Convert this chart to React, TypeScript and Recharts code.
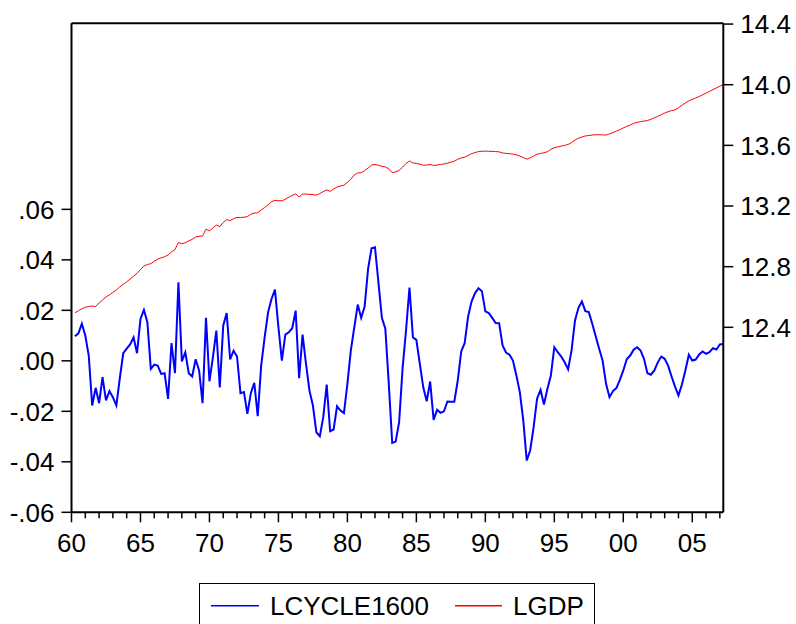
import React from 'react';
import { LineChart, Line, XAxis, YAxis, ReferenceLine } from 'recharts';

// quarterly, 1960Q2 .. 2007Q2
const START_YEAR = 1960;
const START_QUARTER = 2;

const lcycle1600 = [
  0.0097, 0.0109, 0.0147, 0.0100, 0.0021, -0.0177, -0.0107, -0.0168, -0.0065, -0.0157,
  -0.0120, -0.0144, -0.0177, -0.0070, 0.0030, 0.0048, 0.0065, 0.0093, 0.0030, 0.0166,
  0.0202, 0.0153, -0.0032, -0.0015, -0.0019, -0.0052, -0.0049, -0.0151, 0.0070, -0.0049,
  0.0311, -0.0002, 0.0034, -0.0049, -0.0062, 0.0006, -0.0038, -0.0168, 0.0170, -0.0081,
  0.0014, 0.0120, -0.0105, 0.0140, 0.0189, 0.0006, 0.0040, 0.0017, -0.0128, -0.0124,
  -0.0210, -0.0128, -0.0087, -0.0219, -0.0019, 0.0093, 0.0192, 0.0245, 0.0282, 0.0133,
  0.0001, 0.0104, 0.0113, 0.0129, 0.0199, -0.0069, 0.0104, -0.0012, -0.0118, -0.0177,
  -0.0283, -0.0299, -0.0223, -0.0094, -0.0279, -0.0272, -0.0180, -0.0197, -0.0207, -0.0091,
  0.0041, 0.0133, 0.0223, 0.0170, 0.0215, 0.0364, 0.0446, 0.0450, 0.0311, 0.0170,
  0.0127, -0.0091, -0.0325, -0.0320, -0.0243, -0.0030, 0.0120, 0.0290, 0.0093, 0.0083,
  -0.0012, -0.0105, -0.0160, -0.0082, -0.0234, -0.0194, -0.0206, -0.0200, -0.0161, -0.0162,
  -0.0162, -0.0078, 0.0037, 0.0070, 0.0175, 0.0235, 0.0268, 0.0288, 0.0276, 0.0196,
  0.0189, 0.0170, 0.0150, 0.0149, 0.0061, 0.0033, 0.0024, 0.0001, -0.0058, -0.0124,
  -0.0236, -0.0395, -0.0355, -0.0263, -0.0150, -0.0115, -0.0173, -0.0111, -0.0058, 0.0054,
  0.0034, 0.0017, -0.0006, -0.0034, 0.0041, 0.0160, 0.0210, 0.0235, 0.0197, 0.0193,
  0.0147, 0.0097, 0.0048, 0.0001, -0.0091, -0.0144, -0.0120, -0.0108, -0.0075, -0.0038,
  0.0006, 0.0021, 0.0044, 0.0054, 0.0041, 0.0008, -0.0049, -0.0055, -0.0038, -0.0006,
  0.0017, 0.0008, -0.0019, -0.0062, -0.0102, -0.0137, -0.0094, -0.0038, 0.0024, 0.0001,
  0.0005, 0.0025, 0.0037, 0.0028, 0.0034, 0.0050, 0.0045, 0.0065, 0.0067,
];

const lgdp = [
  12.496, 12.509, 12.522, 12.532, 12.538, 12.540, 12.537, 12.560, 12.580, 12.600,
  12.614, 12.630, 12.646, 12.666, 12.684, 12.700, 12.718, 12.737, 12.756, 12.780,
  12.805, 12.814, 12.820, 12.836, 12.850, 12.858, 12.866, 12.876, 12.898, 12.912,
  12.960, 12.951, 12.958, 12.970, 12.980, 12.996, 13.000, 13.003, 13.047, 13.036,
  13.055, 13.075, 13.064, 13.092, 13.110, 13.104, 13.116, 13.125, 13.124, 13.126,
  13.130, 13.146, 13.153, 13.156, 13.174, 13.190, 13.207, 13.228, 13.238, 13.235,
  13.234, 13.245, 13.258, 13.270, 13.280, 13.260, 13.278, 13.279, 13.277, 13.275,
  13.272, 13.282, 13.295, 13.306, 13.297, 13.312, 13.325, 13.332, 13.337, 13.356,
  13.377, 13.405, 13.418, 13.420, 13.433, 13.450, 13.470, 13.474, 13.469, 13.461,
  13.458, 13.445, 13.420, 13.425, 13.435, 13.456, 13.480, 13.497, 13.484, 13.481,
  13.476, 13.469, 13.470, 13.474, 13.467, 13.470, 13.474, 13.477, 13.483, 13.489,
  13.496, 13.508, 13.517, 13.522, 13.533, 13.545, 13.552, 13.559, 13.561, 13.562,
  13.561, 13.560, 13.559, 13.557, 13.550, 13.547, 13.545, 13.542, 13.538, 13.530,
  13.520, 13.509, 13.518, 13.530, 13.542, 13.547, 13.551, 13.558, 13.574, 13.585,
  13.590, 13.595, 13.600, 13.606, 13.618, 13.635, 13.648, 13.655, 13.662, 13.665,
  13.668, 13.670, 13.670, 13.669, 13.668, 13.676, 13.684, 13.694, 13.703, 13.715,
  13.725, 13.734, 13.745, 13.752, 13.756, 13.760, 13.764, 13.772, 13.782, 13.791,
  13.802, 13.813, 13.822, 13.829, 13.834, 13.848, 13.864, 13.880, 13.893, 13.903,
  13.913, 13.922, 13.933, 13.945, 13.956, 13.968, 13.979, 13.990, 14.002,
];

const yearTicks = Array.from({ length: 48 }, (_, k) => START_YEAR + k);
const leftTicks = [-0.06, -0.04, -0.02, 0, 0.02, 0.04, 0.06];
const rightTicks = [12.4, 12.8, 13.2, 13.6, 14.0, 14.4];

const data = lcycle1600.map((v, i) => ({
  t: START_YEAR + (START_QUARTER - 1 + i) / 4,
  LCYCLE1600: v,
  LGDP: lgdp[i],
}));

const FONT = '"Liberation Sans", Arial, Helvetica, sans-serif';
const FS = 26;
const X_TICK = 10;
const X_MARGIN = 11;

const fmtLeft = (v: number) => v.toFixed(2).replace(/^(-?)0\./, '$1.');

const YearTick = (props: any) => {
  const { x, y, payload } = props;
  const yr = payload.value;
  const major = yr % 5 === 0;
  const axisY = y - X_TICK - X_MARGIN;
  return (
    <g>
      <line x1={x} x2={x} y1={axisY} y2={axisY + (major ? X_TICK : 6)} stroke="#000" strokeWidth={1.5} />
      {major && (
        <text x={x} y={y} dy="0.71em" textAnchor="middle" fill="#000" fontSize={FS} fontFamily={FONT}>
          {String(yr % 100).padStart(2, '0')}
        </text>
      )}
    </g>
  );
};

export default function App() {
  return (
    <div style={{ position: 'relative', width: 796, height: 624, background: '#fff', overflow: 'hidden' }}>
      <style>{'body{margin:0}'}</style>
      <LineChart width={796} height={624} data={data} margin={{ top: 23.3, right: 0, bottom: 71.7, left: 0 }}>
        <XAxis
          dataKey="t"
          type="number"
          domain={[1960, 2007.25]}
          ticks={yearTicks}
          interval={0}
          allowDataOverflow
          height={40}
          tickSize={X_TICK}
          tickMargin={X_MARGIN}
          tickLine={false}
          tick={<YearTick />}
          axisLine={{ stroke: '#000', strokeWidth: 2 }}
        />
        <YAxis
          yAxisId="l"
          width={71.5}
          domain={[-0.06, 0.1337]}
          allowDataOverflow
          ticks={leftTicks}
          interval={0}
          tickFormatter={fmtLeft}
          tickSize={10}
          tickMargin={7}
          axisLine={{ stroke: '#000', strokeWidth: 2 }}
          tickLine={{ stroke: '#000', strokeWidth: 1.5 }}
          tick={{ fill: '#000', fontSize: FS, fontFamily: FONT }}
        />
        <YAxis
          yAxisId="r"
          orientation="right"
          width={72.7}
          domain={[11.18, 14.405]}
          allowDataOverflow
          ticks={rightTicks}
          interval={0}
          tickFormatter={(v: number) => v.toFixed(1)}
          tickSize={10}
          tickMargin={7}
          axisLine={{ stroke: '#000', strokeWidth: 2 }}
          tickLine={{ stroke: '#000', strokeWidth: 1.5 }}
          tick={{ fill: '#000', fontSize: FS, fontFamily: FONT }}
        />
        <ReferenceLine yAxisId="l" y={0.1337} stroke="#000" strokeWidth={2} />
        <Line
          yAxisId="r"
          type="linear"
          dataKey="LGDP"
          stroke="#ff0000"
          strokeWidth={1}
          dot={false}
          isAnimationActive={false}
        />
        <Line
          yAxisId="l"
          type="linear"
          dataKey="LCYCLE1600"
          stroke="#0000ff"
          strokeWidth={2}
          dot={false}
          isAnimationActive={false}
        />
      </LineChart>
      <div
        style={{
          position: 'absolute',
          left: 199,
          top: 583,
          width: 396,
          height: 60,
          border: '1px solid #000',
          boxSizing: 'border-box',
          background: '#fff',
        }}
      >
        <svg width={396} height={60} style={{ position: 'absolute', left: -1, top: -1 }}>
          <line x1={12} x2={60} y1={22.7} y2={22.7} stroke="#0000ff" strokeWidth={1.6} />
          <text x={71} y={32} fontSize={FS} fontFamily={FONT} fill="#000">LCYCLE1600</text>
          <line x1={256} x2={303} y1={22.7} y2={22.7} stroke="#ff0000" strokeWidth={1.4} />
          <text x={314} y={32} fontSize={FS} fontFamily={FONT} fill="#000">LGDP</text>
        </svg>
      </div>
    </div>
  );
}
